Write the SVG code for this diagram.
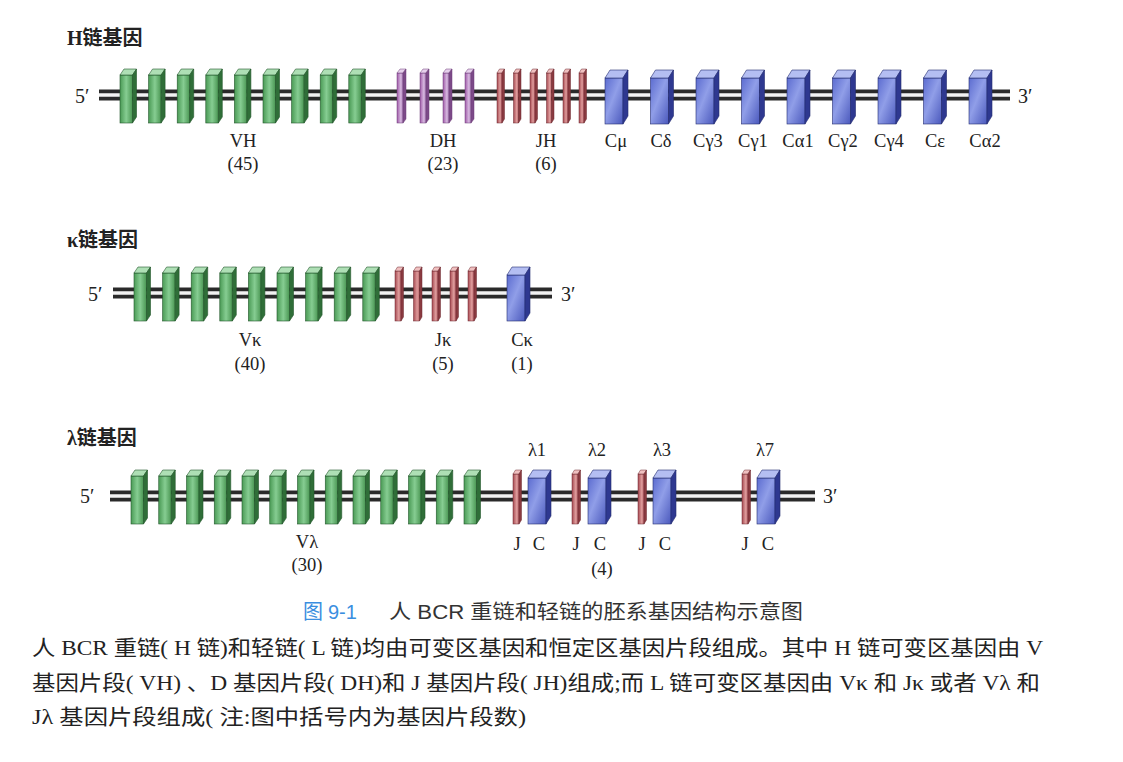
<svg xmlns="http://www.w3.org/2000/svg" xmlns:xlink="http://www.w3.org/1999/xlink" width="1123" height="762" viewBox="0 0 1123 762">
<style>
.lbl{font-family:"Liberation Serif","Noto Sans CJK SC",serif;font-size:18.5px;fill:#222;text-anchor:middle}
.end{font-family:"Liberation Serif",serif;font-size:20px;fill:#222}
.ttl{font-family:"Liberation Serif","Noto Sans CJK SC",serif;font-size:20px;font-weight:bold;fill:#222}
.cap{font-family:"Liberation Sans","Noto Sans CJK SC",sans-serif;font-size:20px;fill:#333}
.par{font-family:"Liberation Serif","Noto Sans CJK SC",serif;font-size:21px;fill:#222}
.dnaO{stroke:#2a2a2a;stroke-width:11;fill:none}
.dnaI{stroke:#f2f2f2;stroke-width:3.5;fill:none}
</style>
<defs>
<linearGradient id="gG" x1="0" x2="1" y1="0" y2="0"><stop offset="0" stop-color="#4a9a55"/><stop offset="0.5" stop-color="#86cd92"/><stop offset="1" stop-color="#4a9653"/></linearGradient>
<linearGradient id="gP" x1="0" x2="1" y1="0" y2="0"><stop offset="0" stop-color="#a05aa8"/><stop offset="0.6" stop-color="#d3b3dc"/><stop offset="1" stop-color="#b58cc0"/></linearGradient>
<linearGradient id="gR" x1="0" x2="1" y1="0" y2="0"><stop offset="0" stop-color="#a84a52"/><stop offset="0.6" stop-color="#dc9a9a"/><stop offset="1" stop-color="#c06a70"/></linearGradient>
<linearGradient id="gB" x1="0" x2="1" y1="0" y2="1"><stop offset="0" stop-color="#5c6cd0"/><stop offset="0.45" stop-color="#909ee8"/><stop offset="1" stop-color="#4a58bc"/></linearGradient>
<g id="green">
<rect x="0" y="0" width="12.5" height="48" fill="url(#gG)" stroke="#24572c" stroke-width="0.6"/>
<polygon points="0,0 4,-6 16.5,-6 12.5,0" fill="#aedfb5" stroke="#24572c" stroke-width="0.6"/>
<polygon points="12.5,0 16.5,-6 16.5,42 12.5,48" fill="#2f6e38" stroke="#24572c" stroke-width="0.6"/>
</g>
<g id="purple">
<rect x="0" y="0" width="6" height="50" fill="url(#gP)" stroke="#6e3f78" stroke-width="0.5"/>
<polygon points="0,0 3,-4 9,-4 6,0" fill="#e6d0ec" stroke="#6e3f78" stroke-width="0.5"/>
<polygon points="6,0 9,-4 9,46 6,50" fill="#7c4a88" stroke="#6e3f78" stroke-width="0.5"/>
</g>
<g id="red">
<rect x="0" y="0" width="5" height="50" fill="url(#gR)" stroke="#6e2a30" stroke-width="0.5"/>
<polygon points="0,0 2.5,-4 7.5,-4 5,0" fill="#f0c0c0" stroke="#6e2a30" stroke-width="0.5"/>
<polygon points="5,0 7.5,-4 7.5,46 5,50" fill="#8a3a40" stroke="#6e2a30" stroke-width="0.5"/>
</g>
<g id="redw">
<rect x="0" y="0" width="6" height="50" fill="url(#gR)" stroke="#6e2a30" stroke-width="0.5"/>
<polygon points="0,0 2.5,-4 8.5,-4 6,0" fill="#f0c0c0" stroke="#6e2a30" stroke-width="0.5"/>
<polygon points="6,0 8.5,-4 8.5,46 6,50" fill="#8a3a40" stroke="#6e2a30" stroke-width="0.5"/>
</g>
<g id="blue">
<rect x="0" y="0" width="18" height="46" fill="url(#gB)" stroke="#242c70" stroke-width="0.6"/>
<polygon points="0,0 5,-8 23,-8 18,0" fill="#b4bef2" stroke="#242c70" stroke-width="0.6"/>
<polygon points="18,0 23,-8 23,38 18,46" fill="#2e3890" stroke="#242c70" stroke-width="0.6"/>
</g>
</defs>

<rect width="1123" height="762" fill="#ffffff"/>

<g id="connectors">
<line class="dnaO" x1="99" y1="95" x2="1010" y2="95"/><line class="dnaI" x1="99" y1="95" x2="1010" y2="95"/>
<line class="dnaO" x1="113" y1="293" x2="552" y2="293"/><line class="dnaI" x1="113" y1="293" x2="552" y2="293"/>
<line class="dnaO" x1="110" y1="496" x2="815" y2="496"/><line class="dnaI" x1="110" y1="496" x2="815" y2="496"/>
</g>

<!-- H chain -->
<g id="H-title"><text class="ttl" x="67" y="45">H链基因</text>
<text class="end" x="75" y="103">5′</text><text class="end" x="1018" y="103">3′</text></g>
<g id="H-VH">
<use href="#green" x="120" y="75"/><use href="#green" x="148.6" y="75"/><use href="#green" x="177.2" y="75"/><use href="#green" x="205.8" y="75"/><use href="#green" x="234.4" y="75"/><use href="#green" x="263" y="75"/><use href="#green" x="291.6" y="75"/><use href="#green" x="320.2" y="75"/><use href="#green" x="348.8" y="75"/>
<text class="lbl" x="243" y="147">VH</text><text class="lbl" x="243" y="170">(45)</text>
</g>
<g id="H-DH">
<use href="#purple" x="397" y="73"/><use href="#purple" x="420" y="73"/><use href="#purple" x="443" y="73"/><use href="#purple" x="465" y="73"/>
<text class="lbl" x="443" y="147">DH</text><text class="lbl" x="443" y="170">(23)</text>
</g>
<g id="H-JH">
<use href="#red" x="497" y="73"/><use href="#red" x="513.5" y="73"/><use href="#red" x="530" y="73"/><use href="#red" x="546.5" y="73"/><use href="#red" x="563" y="73"/><use href="#red" x="579" y="73"/>
<text class="lbl" x="546" y="147">JH</text><text class="lbl" x="546" y="170">(6)</text>
</g>
<g id="H-C">
<use href="#blue" x="605" y="78"/><use href="#blue" x="650.5" y="78"/><use href="#blue" x="696" y="78"/><use href="#blue" x="741.5" y="78"/><use href="#blue" x="787" y="78"/><use href="#blue" x="832.5" y="78"/><use href="#blue" x="878" y="78"/><use href="#blue" x="923.5" y="78"/><use href="#blue" x="969" y="78"/>
<text class="lbl" x="616" y="147">Cμ</text><text class="lbl" x="661" y="147">Cδ</text><text class="lbl" x="708" y="147">Cγ3</text><text class="lbl" x="753" y="147">Cγ1</text><text class="lbl" x="798" y="147">Cα1</text><text class="lbl" x="843" y="147">Cγ2</text><text class="lbl" x="889" y="147">Cγ4</text><text class="lbl" x="935" y="147">Cε</text><text class="lbl" x="985" y="147">Cα2</text>
</g>

<!-- kappa chain -->
<g id="K-title"><text class="ttl" x="67" y="247">κ链基因</text>
<text class="end" x="88" y="301">5′</text><text class="end" x="561" y="301">3′</text></g>
<g id="K-V">
<use href="#green" x="134" y="273"/><use href="#green" x="162.6" y="273"/><use href="#green" x="191.2" y="273"/><use href="#green" x="219.8" y="273"/><use href="#green" x="248.4" y="273"/><use href="#green" x="277" y="273"/><use href="#green" x="305.6" y="273"/><use href="#green" x="334.2" y="273"/><use href="#green" x="362.8" y="273"/>
<text class="lbl" x="250" y="346">Vκ</text><text class="lbl" x="250" y="370">(40)</text>
</g>
<g id="K-J">
<use href="#redw" x="395" y="271"/><use href="#redw" x="413.5" y="271"/><use href="#redw" x="432" y="271"/><use href="#redw" x="450" y="271"/><use href="#redw" x="468" y="271"/>
<text class="lbl" x="443" y="346">Jκ</text><text class="lbl" x="443" y="370">(5)</text>
</g>
<g id="K-C">
<use href="#blue" x="507" y="275"/>
<text class="lbl" x="522" y="346">Cκ</text><text class="lbl" x="522" y="370">(1)</text>
</g>

<!-- lambda chain -->
<g id="L-title"><text class="ttl" x="67" y="445">λ链基因</text>
<text class="end" x="80" y="503">5′</text><text class="end" x="823" y="503">3′</text></g>
<g id="L-V">
<use href="#green" x="131" y="476"/><use href="#green" x="158.75" y="476"/><use href="#green" x="186.5" y="476"/><use href="#green" x="214.25" y="476"/><use href="#green" x="242" y="476"/><use href="#green" x="269.75" y="476"/><use href="#green" x="297.5" y="476"/><use href="#green" x="325.25" y="476"/><use href="#green" x="353" y="476"/><use href="#green" x="380.75" y="476"/><use href="#green" x="408.5" y="476"/><use href="#green" x="436.25" y="476"/><use href="#green" x="464" y="476"/>
<text class="lbl" x="307" y="548">Vλ</text><text class="lbl" x="307" y="571">(30)</text>
</g>
<g id="L-1">
<use href="#redw" x="513" y="474"/><use href="#blue" x="528" y="478"/>
<text class="lbl" x="537" y="456">λ1</text><text class="lbl" x="517" y="550">J</text><text class="lbl" x="539" y="550">C</text>
</g>
<g id="L-2">
<use href="#redw" x="572" y="474"/><use href="#blue" x="588" y="478"/>
<text class="lbl" x="597" y="456">λ2</text><text class="lbl" x="576" y="550">J</text><text class="lbl" x="600" y="550">C</text>
<text class="lbl" x="602" y="575">(4)</text>
</g>
<g id="L-3">
<use href="#redw" x="638" y="474"/><use href="#blue" x="653" y="478"/>
<text class="lbl" x="662" y="456">λ3</text><text class="lbl" x="642" y="550">J</text><text class="lbl" x="665" y="550">C</text>
</g>
<g id="L-7">
<use href="#redw" x="742" y="474"/><use href="#blue" x="757" y="478"/>
<text class="lbl" x="765" y="456">λ7</text><text class="lbl" x="745" y="550">J</text><text class="lbl" x="768" y="550">C</text>
</g>

<!-- caption -->
<g id="caption">
<text class="cap" x="303" y="619" style="fill:#3a8ee0">图</text>
<text class="cap" x="328" y="619" style="fill:#3a8ee0">9-1</text>
<text class="cap" x="389" y="619" textLength="414" lengthAdjust="spacingAndGlyphs">人 BCR 重链和轻链的胚系基因结构示意图</text>
<text class="par" x="32" y="655" textLength="1011" lengthAdjust="spacingAndGlyphs">人 BCR 重链( H 链)和轻链( L 链)均由可变区基因和恒定区基因片段组成。其中 H 链可变区基因由 V</text>
<text class="par" x="32" y="690" textLength="1008" lengthAdjust="spacingAndGlyphs">基因片段( VH) 、D 基因片段( DH)和 J 基因片段( JH)组成;而 L 链可变区基因由 Vκ 和 Jκ 或者 Vλ 和</text>
<text class="par" x="32" y="724" textLength="494" lengthAdjust="spacingAndGlyphs">Jλ 基因片段组成( 注:图中括号内为基因片段数)</text>
</g>
</svg>
